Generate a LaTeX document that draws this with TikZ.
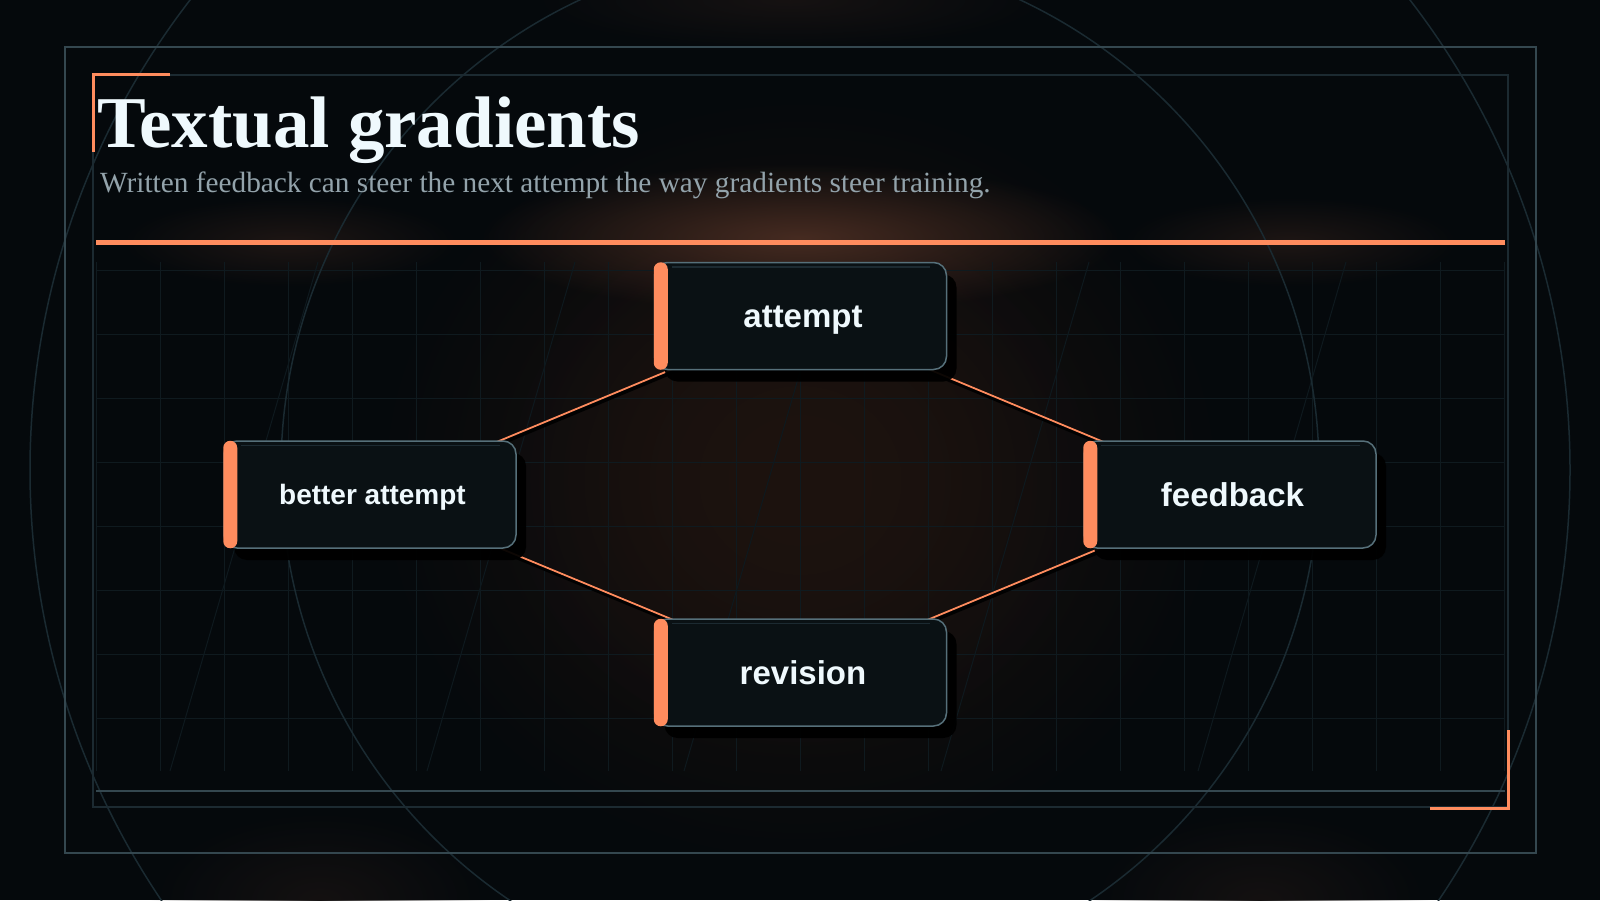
\documentclass[tikz,border=0pt]{standalone}
\usepackage{fontspec}
\setmainfont{Liberation Serif}
\newfontfamily\boxfont{Liberation Sans}
\usetikzlibrary{shadows, fadings}
\definecolor{bgcol}{HTML}{05090C}
\definecolor{accent}{HTML}{FF8C5E}
\definecolor{edgecol}{HTML}{56707A}
\definecolor{boxfill}{HTML}{0A1114}
\definecolor{gridcol}{HTML}{0F1A1F}
\definecolor{raycol}{HTML}{0E191E}
\definecolor{ringcol}{HTML}{1A2A31}
\definecolor{framecol}{HTML}{34474F}
\definecolor{framedark}{HTML}{1C2A31}
\definecolor{titlecol}{HTML}{EFF9FD}
\definecolor{subcol}{HTML}{93A3AB}
\definecolor{glowcol}{HTML}{1D130F}
\tikzfading[name=softglow, inner color=transparent!0, outer color=transparent!100]
\pgfdeclarelayer{back}
\pgfsetlayers{back,main}
\newcommand\accentbar[1]{\fill[accent,rounded corners=7pt] ([yshift=-0.5pt]#1.north west) rectangle ([xshift=14pt,yshift=0.5pt]#1.south west);
\draw[framedark,line width=1.5pt] ([xshift=18pt,yshift=-5pt]#1.north west) -- ([xshift=-17pt,yshift=-5pt]#1.north east);}
\newcommand\glow[4]{\fill[#4,path fading=softglow] (#1) ellipse [x radius=#2, y radius=#3];}

\begin{document}
\begin{tikzpicture}[x=1pt,y=-1pt,
  stagebox/.style={draw=edgecol,line width=1.5pt,fill=boxfill,rounded corners=13pt,minimum width=292pt,minimum height=107pt,inner sep=0pt,text=titlecol,text height=23.5pt,text depth=0pt,font=\boxfont\bfseries\fontsize{33}{33}\selectfont,drop shadow={shadow xshift=10pt,shadow yshift=-12pt,fill=black,opacity=0.95}},
  gridline/.style={gridcol,line width=1pt},
  link/.style={accent,line width=1.8pt}]
\useasboundingbox (0,0) rectangle (1600,900);
\begin{pgfonlayer}{back}
\fill[bgcol] (0,0) rectangle (1600,900);
\glow{800,480}{430}{390}{glowcol}
\glow{800,480}{300}{280}{glowcol}
\glow{800,238}{320}{75}{accent!26!bgcol}
\glow{290,242}{170}{45}{accent!10!bgcol}
\glow{1290,242}{170}{45}{accent!10!bgcol}
\glow{790,0}{260}{50}{accent!7!bgcol}
\glow{320,900}{170}{90}{accent!6!bgcol}
\glow{1260,900}{170}{90}{accent!6!bgcol}
\foreach \gx in {0,...,22} \draw[gridline] ({96+64*\gx},262) -- ({96+64*\gx},771);
\foreach \gy in {0,...,7} \draw[gridline] (96,{270+64*\gy}) -- (1505,{270+64*\gy});
\foreach \dx in {318,575,832,1089,1346} \draw[raycol,line width=1pt] (\dx,262) -- ({\dx-148},771);
\begin{scope}
\clip (0,0) rectangle (1600,900);
\draw[ringcol,line width=1.5pt] (800,470) circle [radius=770];
\draw[ringcol,line width=1.5pt] (800,470) circle [radius=519];
\end{scope}
\draw[framecol,line width=2pt] (65,47) rectangle (1536,853);
\draw[framedark,line width=2pt] (93,74.5) rectangle (1508,807);
\draw[framecol,line width=2pt] (96,791) -- (1505,791);
\end{pgfonlayer}

\draw[accent,line width=3pt] (170,74.5) -- (93,74.5) -- (93,152);
\draw[accent,line width=3pt] (1430,808) -- (1508,808) -- (1508,730);
\draw[accent,line width=5pt] (96,242) -- (1505,242);

\node[anchor=base west,inner sep=0pt,text=titlecol,font=\bfseries\fontsize{73}{73}\selectfont] (title) at (97,147) {Textual gradients};
\node[anchor=base west,inner sep=0pt,text=subcol,font=\fontsize{29.3}{29.3}\selectfont] (subtitle) at (100,192) {Written feedback can steer the next attempt the way gradients steer training.};

\node[stagebox] (attempt) at (800.5,316) {\hspace*{5pt}attempt};
\node[stagebox] (feedback) at (1230,494.5) {\hspace*{5pt}feedback};
\node[stagebox] (revision) at (800.5,672.5) {\hspace*{5pt}revision};
\node[stagebox,text height=20pt,font=\boxfont\bfseries\fontsize{28}{28}\selectfont] (better) at (370,494.5) {\hspace*{5pt}better attempt};
\accentbar{attempt}
\accentbar{feedback}
\accentbar{revision}
\accentbar{better}

\begin{pgfonlayer}{back}
\foreach \a/\b in {attempt/feedback,feedback/revision,revision/better,better/attempt} {
\draw[black,line width=5pt,opacity=0.9,transform canvas={xshift=1pt,yshift=-2pt}] (\a.center) -- (\b.center);
\draw[link] (\a.center) -- (\b.center);
}
\end{pgfonlayer}
\end{tikzpicture}
\end{document}
